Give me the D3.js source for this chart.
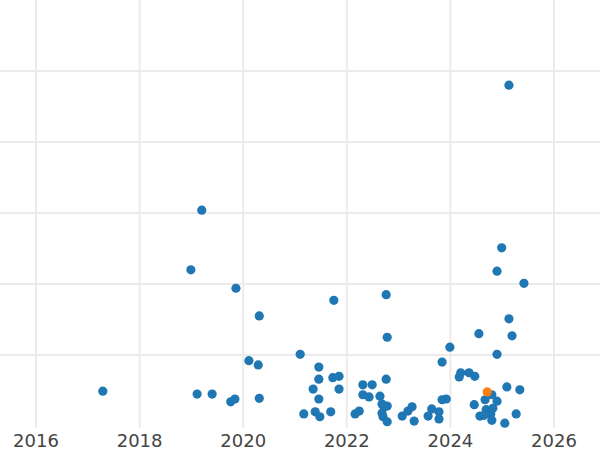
<!DOCTYPE html>
<html>
<head>
<meta charset="utf-8">
<script src="https://cdn.jsdelivr.net/npm/d3@7"></script>
<style>
  body { margin: 0; background: #fff; }
  svg { display: block; }
</style>
</head>
<body>
<div id="chart"></div>
<script>
// Decimal year and value for each point
const years = [2017.29, 2018.99, 2019.20, 2019.86, 2020.31, 2020.11, 2020.29, 2019.11, 2019.40, 2019.76,
    2019.84, 2020.31, 2021.10, 2025.13, 2024.99, 2024.90, 2025.42, 2021.75, 2022.76, 2022.78,
    2025.13, 2025.19, 2024.55, 2023.99, 2024.90, 2023.84, 2021.46, 2021.46, 2021.35, 2021.46,
    2021.17, 2021.39, 2021.48, 2021.69, 2021.73, 2021.85, 2021.85, 2022.16, 2022.24, 2022.31,
    2022.49, 2022.31, 2022.43, 2022.64, 2022.76, 2022.68, 2022.78, 2022.68, 2022.70, 2022.78,
    2022.72, 2023.07, 2023.18, 2023.26, 2023.30, 2023.57, 2023.64, 2023.78, 2023.78, 2023.84,
    2023.92, 2024.17, 2024.20, 2024.36, 2024.47, 2024.46, 2024.57, 2024.67, 2024.80, 2024.69,
    2024.78, 2024.82, 2024.90, 2024.80, 2025.05, 2025.09, 2025.34, 2025.27, 2024.65];
const values = [49, 220, 304, 194, 155, 92, 86, 45, 45, 34,
    38, 39, 101, 480, 251, 218, 201, 177, 185, 125,
    151, 127, 130, 111, 101, 90, 83, 66, 52, 38,
    17, 20, 13, 20, 68, 70, 52, 17, 21, 58,
    58, 44, 41, 42, 66, 31, 28, 18, 13, 6,
    27, 14, 21, 27, 7, 14, 24, 20, 10, 37,
    38, 69, 75, 75, 70, 30, 14, 37, 44, 23,
    17, 25, 35, 8, 4, 55, 51, 17, 15];
// highlighted point
const highlight = { year: 2024.71, value: 48 };

const xTicks = [2016, 2018, 2020, 2022, 2024, 2026];
const yGrid = [100, 200, 300, 400, 500];

const width = 600, height = 450;

const x = d3.scaleLinear().domain([2016, 2026]).range([36, 554]);
const y = d3.scaleLinear().domain([0, 600]).range([426, 0]);

const svg = d3.select("#chart").append("svg")
    .attr("width", width)
    .attr("height", height)
    .style("font-family", "DejaVu Sans, sans-serif");

// grid
svg.append("g").selectAll("line.h")
    .data(yGrid)
    .join("line")
    .attr("x1", 0).attr("x2", width)
    .attr("y1", d => y(d)).attr("y2", d => y(d))
    .attr("stroke", "#ebebeb").attr("stroke-width", 2);

svg.append("g").selectAll("line.v")
    .data(xTicks)
    .join("line")
    .attr("x1", d => x(d)).attr("x2", d => x(d))
    .attr("y1", 0).attr("y2", 428)
    .attr("stroke", "#ebebeb").attr("stroke-width", 2);

// x axis labels
svg.append("g").selectAll("text")
    .data(xTicks)
    .join("text")
    .attr("x", d => x(d))
    .attr("y", 447)
    .attr("text-anchor", "middle")
    .attr("fill", "#444")
    .style("font-size", "18px")
    .text(d => d);

const pts = years.map((d, i) => ({ year: d, value: values[i] }));

svg.append("g").selectAll("circle")
    .data(pts)
    .join("circle")
    .attr("cx", d => x(d.year))
    .attr("cy", d => y(d.value))
    .attr("r", 4.6)
    .attr("fill", "#1f77b4");

svg.append("circle")
    .attr("cx", x(highlight.year))
    .attr("cy", y(highlight.value))
    .attr("r", 4.6)
    .attr("fill", "#ff7f0e");
</script>
</body>
</html>
